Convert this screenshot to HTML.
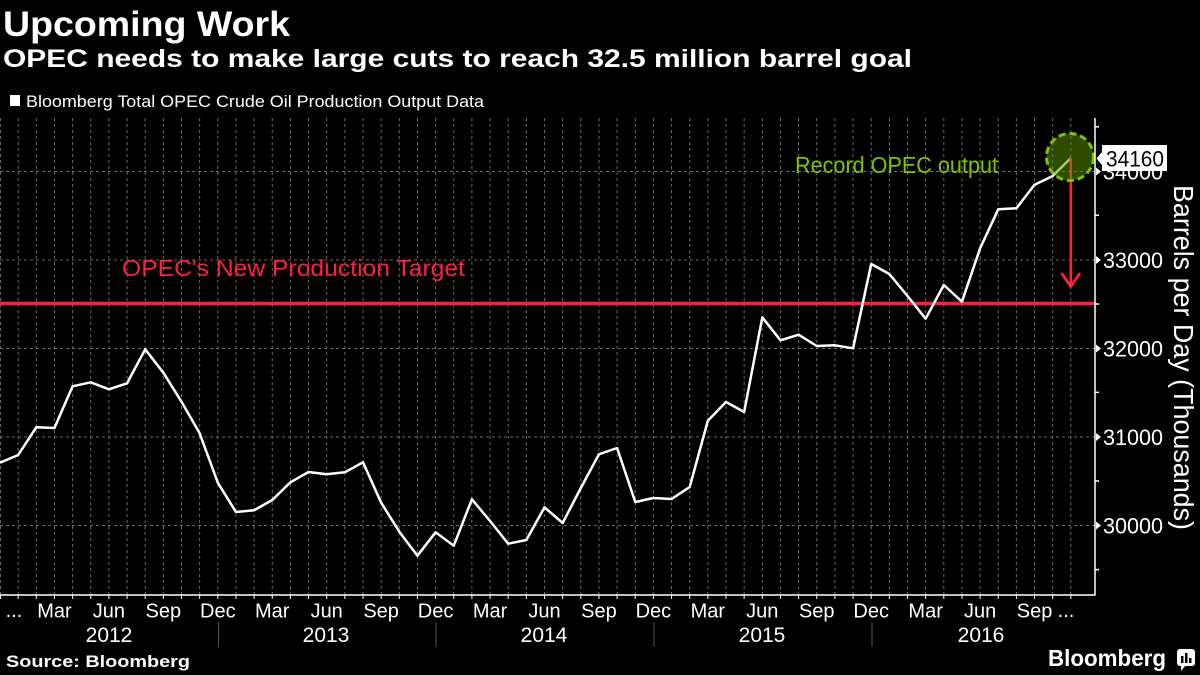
<!DOCTYPE html>
<html>
<head>
<meta charset="utf-8">
<style>
html,body{margin:0;padding:0;background:#000;}
body{width:1200px;height:675px;overflow:hidden;}
svg{display:block;}
text{font-family:"Liberation Sans",sans-serif;}
</style>
</head>
<body>
<svg width="1200" height="675" viewBox="0 0 1200 675" xmlns="http://www.w3.org/2000/svg">
<rect x="0" y="0" width="1200" height="675" fill="#000"/>

<!-- Titles -->
<text x="3" y="36" font-size="35" font-weight="bold" fill="#fff" textLength="287" lengthAdjust="spacingAndGlyphs">Upcoming Work</text>
<text x="3" y="67" font-size="25" font-weight="bold" fill="#fff" textLength="909" lengthAdjust="spacingAndGlyphs">OPEC needs to make large cuts to reach 32.5 million barrel goal</text>

<!-- Legend -->
<rect x="10" y="95" width="10" height="11" fill="#fff"/>
<text x="26" y="107" font-size="17" fill="#fff" textLength="458" lengthAdjust="spacingAndGlyphs">Bloomberg Total OPEC Crude Oil Production Output Data</text>

<!-- Grid -->
<g stroke="#6a6a6a" stroke-width="1" stroke-dasharray="3,3" fill="none">
<path id="vgrid" d="
M0.5,118V595 M18.15,118V595 M36.3,118V595 M54.45,118V595 M72.6,118V595 M90.75,118V595
M108.9,118V595 M127.05,118V595 M145.2,118V595 M163.35,118V595 M181.5,118V595 M199.65,118V595
M217.8,118V595 M235.95,118V595 M254.1,118V595 M272.25,118V595 M290.4,118V595 M308.55,118V595
M326.7,118V595 M344.85,118V595 M363,118V595 M381.15,118V595 M399.3,118V595 M417.45,118V595
M435.6,118V595 M453.75,118V595 M471.9,118V595 M490.05,118V595 M508.2,118V595 M526.35,118V595
M544.5,118V595 M562.65,118V595 M580.8,118V595 M598.95,118V595 M617.1,118V595 M635.25,118V595
M653.4,118V595 M671.55,118V595 M689.7,118V595 M707.85,118V595 M726,118V595 M744.15,118V595
M762.3,118V595 M780.45,118V595 M798.6,118V595 M816.75,118V595 M834.9,118V595 M853.05,118V595
M871.2,118V595 M889.35,118V595 M907.5,118V595 M925.65,118V595 M943.8,118V595 M961.95,118V595
M980.1,118V595 M998.25,118V595 M1016.4,118V595 M1034.55,118V595 M1052.7,118V595 M1070.85,118V595"/>
<path d="M0,171.5H1095 M0,260H1095 M0,348.5H1095 M0,437H1095 M0,525.5H1095"/>
</g>

<!-- Target line -->
<line x1="0" y1="303.5" x2="1095" y2="303.5" stroke="#ff2040" stroke-width="3.5"/>
<text x="122" y="276" font-size="23" fill="#ff2040" textLength="343" lengthAdjust="spacingAndGlyphs">OPEC's New Production Target</text>

<!-- Record text -->
<text x="795" y="173" font-size="23" fill="#7fc400" textLength="203" lengthAdjust="spacingAndGlyphs">Record OPEC output</text>

<!-- Data line -->
<polyline fill="none" stroke="#fff" stroke-width="2.5" stroke-linejoin="round" points="
0,462.7 18.15,455 36.3,427.3 54.45,428 72.6,386.3 90.75,382.3 108.9,389.3 127.05,383.3
145.2,349.3 163.35,372.7 181.5,401.7 199.65,433.3 217.8,482.7 235.95,512 254.1,510.3 272.25,500
290.4,482.3 308.55,472 326.7,474.3 344.85,472.3 363,462.3 381.15,502.7 399.3,531.7 417.45,555.7
435.6,532.3 453.75,545.7 471.9,499.3 490.05,521 508.2,543.7 526.35,540 544.5,507.3 562.65,523
580.8,488 598.95,454.3 617.1,448 635.25,502 653.4,498 671.55,499 689.7,487 707.85,420.7
726,402 744.15,412 762.3,317.3 780.45,340.3 798.6,334.7 816.75,346 834.9,345.3 853.05,348.3
871.2,264 889.35,274 907.5,296 925.65,318.7 943.8,285 961.95,301.7 980.1,248.3 998.25,209.3
1016.4,208.3 1034.55,184.7 1052.7,176 1070.85,158"/>

<!-- Red arrow -->
<line x1="1070.8" y1="158" x2="1070.8" y2="286" stroke="#ff2040" stroke-width="2.5"/>
<polyline points="1061.5,273 1070.8,286.5 1080,273" fill="none" stroke="#ff2040" stroke-width="2.8"/>

<!-- Highlight circle -->
<circle cx="1070" cy="157" r="23.5" fill="rgba(92,150,0,0.5)" stroke="#7fc400" stroke-width="3" stroke-dasharray="7,4"/>

<!-- Axes -->
<g stroke="#fff" stroke-width="1.5" fill="none">
<line x1="0" y1="595" x2="1095.5" y2="595"/>
<line x1="1095" y1="118" x2="1095" y2="595.5"/>
<path d="M1095,126.7h4 M1095,215.3h4 M1095,304h4 M1095,392.4h4 M1095,481h4 M1095,569.6h4"/>
</g>
<g stroke="#fff" stroke-width="1" fill="none">
<path d="
M0.5,595v4 M18.15,595v4 M36.3,595v4 M54.45,595v4 M72.6,595v4 M90.75,595v4
M108.9,595v4 M127.05,595v4 M145.2,595v4 M163.35,595v4 M181.5,595v4 M199.65,595v4
M217.8,595v4 M235.95,595v4 M254.1,595v4 M272.25,595v4 M290.4,595v4 M308.55,595v4
M326.7,595v4 M344.85,595v4 M363,595v4 M381.15,595v4 M399.3,595v4 M417.45,595v4
M435.6,595v4 M453.75,595v4 M471.9,595v4 M490.05,595v4 M508.2,595v4 M526.35,595v4
M544.5,595v4 M562.65,595v4 M580.8,595v4 M598.95,595v4 M617.1,595v4 M635.25,595v4
M653.4,595v4 M671.55,595v4 M689.7,595v4 M707.85,595v4 M726,595v4 M744.15,595v4
M762.3,595v4 M780.45,595v4 M798.6,595v4 M816.75,595v4 M834.9,595v4 M853.05,595v4
M871.2,595v4 M889.35,595v4 M907.5,595v4 M925.65,595v4 M943.8,595v4 M961.95,595v4
M980.1,595v4 M998.25,595v4 M1016.4,595v4 M1034.55,595v4 M1052.7,595v4 M1070.85,595v4"/>
</g>

<!-- Right axis labels -->
<g fill="#fff">
<path d="M1096,167.5 l5,4 l-5,4 z M1096,256 l5,4 l-5,4 z M1096,344.5 l5,4 l-5,4 z M1096,433 l5,4 l-5,4 z M1096,521.5 l5,4 l-5,4 z"/>
</g>
<g font-size="22" fill="#fff">
<text x="1103" y="179.5" textLength="60" lengthAdjust="spacingAndGlyphs">34000</text>
<text x="1103" y="268" textLength="60" lengthAdjust="spacingAndGlyphs">33000</text>
<text x="1103" y="356.5" textLength="60" lengthAdjust="spacingAndGlyphs">32000</text>
<text x="1103" y="445" textLength="60" lengthAdjust="spacingAndGlyphs">31000</text>
<text x="1103" y="533.5" textLength="60" lengthAdjust="spacingAndGlyphs">30000</text>
</g>

<!-- 34160 label -->
<path d="M1096.5,158.5 L1102,152 L1102,145 L1167,145 L1167,171 L1102,171 L1102,165 Z" fill="#fff"/>
<text x="1106" y="166.5" font-size="22" fill="#000" textLength="58" lengthAdjust="spacingAndGlyphs">34160</text>

<!-- Y axis title -->
<text transform="translate(1174,185) rotate(90)" x="0" y="0" font-size="28" fill="#fff" textLength="345" lengthAdjust="spacingAndGlyphs">Barrels per Day (Thousands)</text>

<!-- X month labels -->
<g font-size="20" fill="#fff" text-anchor="middle">
<text x="14" y="617">...</text>
<text x="54.45" y="617.5">Mar</text>
<text x="108.9" y="617.5">Jun</text>
<text x="163.35" y="617.5">Sep</text>
<text x="217.8" y="617.5">Dec</text>
<text x="272.25" y="617.5">Mar</text>
<text x="326.7" y="617.5">Jun</text>
<text x="381.15" y="617.5">Sep</text>
<text x="435.6" y="617.5">Dec</text>
<text x="490.05" y="617.5">Mar</text>
<text x="544.5" y="617.5">Jun</text>
<text x="598.95" y="617.5">Sep</text>
<text x="653.4" y="617.5">Dec</text>
<text x="707.85" y="617.5">Mar</text>
<text x="762.3" y="617.5">Jun</text>
<text x="816.75" y="617.5">Sep</text>
<text x="871.2" y="617.5">Dec</text>
<text x="925.65" y="617.5">Mar</text>
<text x="980.1" y="617.5">Jun</text>
<text x="1034.55" y="617.5">Sep</text>
<text x="1066" y="617">...</text>
</g>
<g font-size="21" fill="#fff" text-anchor="middle">
<text x="109" y="642">2012</text>
<text x="326" y="642">2013</text>
<text x="544" y="642">2014</text>
<text x="762" y="642">2015</text>
<text x="981" y="642">2016</text>
</g>
<g stroke="#555" stroke-width="1">
<path d="M218.5,622V647 M436,622V647 M654,622V647 M872,622V647"/>
</g>

<!-- Source -->
<text x="6" y="667" font-size="17" font-weight="bold" fill="#fff" textLength="184" lengthAdjust="spacingAndGlyphs">Source: Bloomberg</text>

<!-- Bloomberg logo -->
<text x="1048" y="666" font-size="23" font-weight="bold" fill="#fff" textLength="118" lengthAdjust="spacingAndGlyphs">Bloomberg</text>
<rect x="1177" y="649" width="18" height="17" rx="3" fill="#fff"/>
<path d="M1181,665 L1181,671 L1186,665 Z" fill="#fff"/>
<rect x="1181" y="656" width="2.5" height="7" fill="#000"/>
<rect x="1185" y="653" width="2.5" height="10" fill="#000"/>
<rect x="1189" y="658" width="2.5" height="5" fill="#000"/>
</svg>
</body>
</html>
